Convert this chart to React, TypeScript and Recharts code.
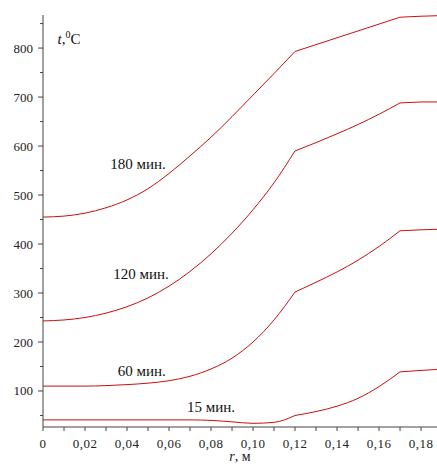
import { LineChart, Line, XAxis, YAxis, ReferenceDot, Label } from 'recharts';

// radius, m
const radius = [0, 0.01, 0.02, 0.03, 0.04, 0.05, 0.06, 0.07, 0.08, 0.09, 0.1, 0.11, 0.12, 0.13, 0.14, 0.15, 0.16, 0.17, 0.18, 0.1876];

// temperature, °C
const t15 = [41, 41, 41, 41, 41, 41, 41, 41, 40, 37, 34, 36, 50, 58, 69, 85, 109, 139, 142, 144];
const t60 = [110, 110, 110, 111, 113, 116, 121, 130, 145, 167, 200, 245, 302, 322, 343, 367, 395, 427, 429, 430];
const t120 = [243, 245, 250, 259, 272, 290, 314, 344, 380, 422, 470, 525, 590, 607, 625, 644, 665, 688, 690, 690];
const t180 = [455, 457, 463, 474, 490, 513, 544, 580, 618, 660, 704, 748, 793, 807, 821, 835, 849, 863, 865, 866];

const series: [string, number[]][] = [['t15', t15], ['t60', t60], ['t120', t120], ['t180', t180]];

// zone borders (kinks of every curve)
const KINK1 = 0.12;
const KINK2 = 0.17;

const xTicks = [0, 0.01, 0.02, 0.03, 0.04, 0.05, 0.06, 0.07, 0.08, 0.09, 0.1, 0.11, 0.12, 0.13, 0.14, 0.15, 0.16, 0.17, 0.18];
const yTicks = [50, 100, 150, 200, 250, 300, 350, 400, 450, 500, 550, 600, 650, 700, 750, 800, 850];

// curve labels: [text, r, t]
const curveLabels: [string, number, number][] = [
    ['180 мин.', 0.0452, 565],
    ['120 мин.', 0.0467, 339],
    ['60 мин.', 0.047, 141],
    ['15 мин.', 0.08, 69],
];

const data = radius.map((r, i) => {
    const row: any = { r };
    series.forEach(([key, vals]) => {
        row[key + 'a'] = r <= KINK1 ? vals[i] : null;
        row[key + 'b'] = r >= KINK1 && r <= KINK2 ? vals[i] : null;
        row[key + 'c'] = r >= KINK2 ? vals[i] : null;
    });
    return row;
});

const FONT = '"Liberation Serif", "Times New Roman", serif';
const AXIS = '#444';
const RED = '#c81010';

const YTick = ({ x, y, payload }: any) => {
    const major = payload.value % 100 === 0;
    return (
        <g>
            <line x1={x - (major ? 5 : 3)} x2={x} y1={y} y2={y} stroke={AXIS} strokeWidth={1} />
            {major && (
                <text x={x - 10} y={y + 4.5} textAnchor="end" fontSize={13} fontFamily={FONT} fill="#222">
                    {payload.value}
                </text>
            )}
        </g>
    );
};

const XTick = ({ x, y, payload }: any) => {
    const idx = Math.round(payload.value * 100);
    const major = idx % 2 === 0;
    const txt = idx === 0 ? '0' : payload.value.toFixed(2).replace('.', ',');
    return (
        <g>
            <line x1={x} x2={x} y1={y} y2={y + 4} stroke={AXIS} strokeWidth={1} />
            {major && (
                <text x={x} y={y + 21} textAnchor="middle" fontSize={13} letterSpacing={0.5} fontFamily={FONT} fill="#222">
                    {txt}
                </text>
            )}
        </g>
    );
};

export default function App() {
    return (
        <div style={{ position: 'absolute', left: 0, top: 0, background: '#fff' }}>
            <LineChart width={437} height={464} data={data} margin={{ top: 15, right: 0, bottom: 0, left: 0 }}>
                <XAxis
                    dataKey="r"
                    type="number"
                    domain={[0, 0.1876]}
                    ticks={xTicks}
                    allowDataOverflow
                    height={37}
                    stroke={AXIS}
                    tickLine={false}
                    tickSize={0}
                    tickMargin={0}
                    tick={<XTick />}
                    interval={0}
                >
                    <Label
                        content={({ viewBox }: any) => (
                            <text x={viewBox.x + viewBox.width / 2} y={461} textAnchor="middle" fontSize={14} fontFamily={FONT} fill="#222">
                                <tspan fontStyle="italic">r</tspan>, м
                            </text>
                        )}
                    />
                </XAxis>
                <YAxis
                    type="number"
                    domain={[26.5, 867.5]}
                    ticks={yTicks}
                    allowDataOverflow
                    width={43}
                    stroke={AXIS}
                    tickLine={false}
                    tickSize={0}
                    tickMargin={0}
                    tick={<YTick />}
                    interval={0}
                />
                {series.map(([key]) => [
                    <Line key={key + 'a'} type="monotone" dataKey={key + 'a'} stroke={RED} strokeWidth={1} dot={false} isAnimationActive={false} />,
                    <Line key={key + 'b'} type="monotone" dataKey={key + 'b'} stroke={RED} strokeWidth={1} dot={false} isAnimationActive={false} />,
                    <Line key={key + 'c'} type="linear" dataKey={key + 'c'} stroke={RED} strokeWidth={1} dot={false} isAnimationActive={false} />,
                ])}
                {curveLabels.map(([text, r, t]) => (
                    <ReferenceDot
                        key={text}
                        x={r}
                        y={t}
                        r={0}
                        stroke="none"
                        fill="none"
                        label={{ value: text, position: 'center', fontSize: 15, fontFamily: FONT, fill: '#111' }}
                    />
                ))}
                <ReferenceDot
                    x={0.0124}
                    y={818}
                    r={0}
                    stroke="none"
                    fill="none"
                    label={{
                        content: ({ viewBox }: any) => (
                            <text x={viewBox.x} y={viewBox.y + 5} textAnchor="middle" fontSize={15} fontFamily={FONT} fill="#111">
                                <tspan fontStyle="italic">t</tspan>
                                <tspan>,</tspan>
                                <tspan dy={-6} fontSize={10}>0</tspan>
                                <tspan dy={6}>C</tspan>
                            </text>
                        ),
                    }}
                />
            </LineChart>
        </div>
    );
}
